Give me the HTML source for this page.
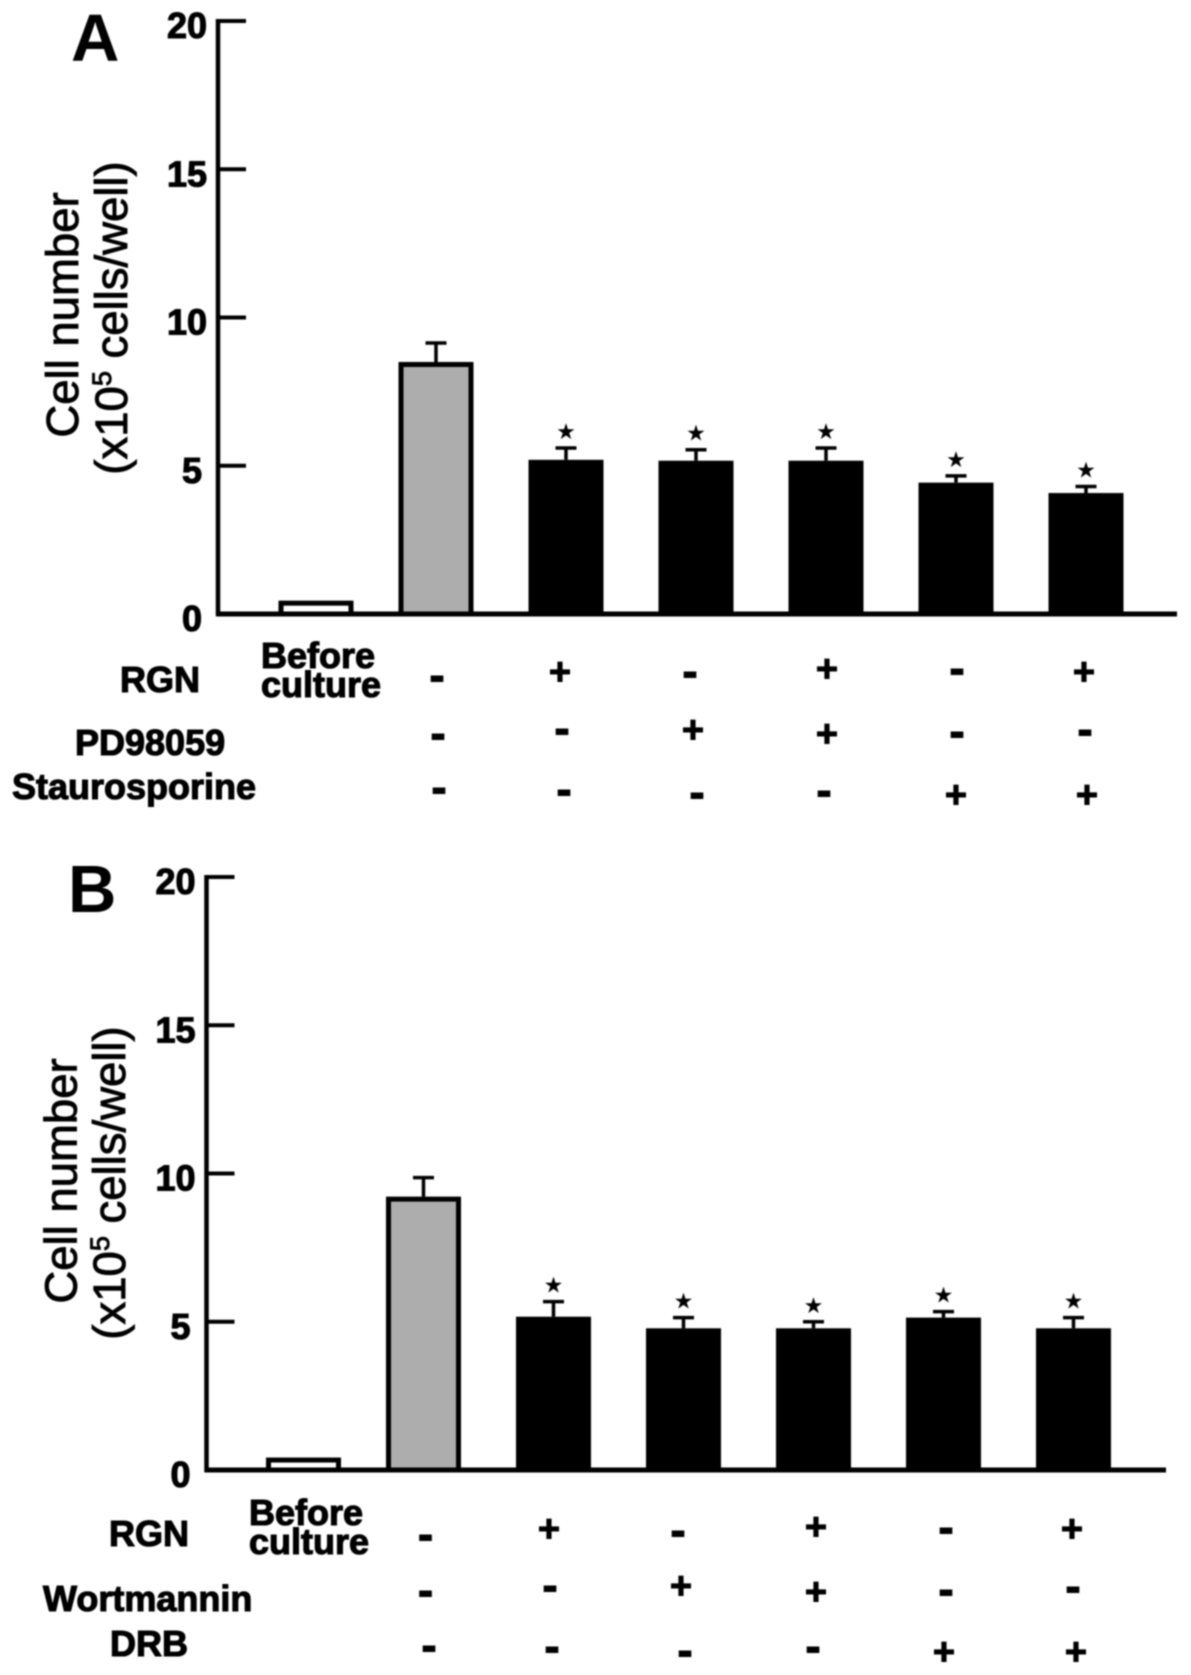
<!DOCTYPE html>
<html lang="en">
<head>
<meta charset="utf-8">
<title>Cell number bar charts</title>
<style>
html,body{margin:0;padding:0;background:#fff;width:1191px;height:1675px;overflow:hidden}
svg{display:block;filter:blur(.7px)}
text{font-family:"Liberation Sans",sans-serif;fill:#000}
.lab{font-size:36px;font-weight:700;stroke:#000;stroke-width:1.1px}
.tick{font-size:36px;font-weight:700;stroke:#000;stroke-width:1.1px}
.ttl{font-size:45.5px;stroke:#000;stroke-width:.9px}
.pan{font-size:67px;font-weight:700}
.p{font-size:38px;font-weight:700;text-anchor:middle;stroke:#000;stroke-width:1px}
.m{font-size:46px;font-weight:700;text-anchor:middle;stroke:#000;stroke-width:1px}
.star{font-family:"DejaVu Sans",sans-serif;font-size:22px;text-anchor:middle}
</style>
</head>
<body>
<svg id="chart" xmlns="http://www.w3.org/2000/svg" width="1191" height="1675" viewBox="0 0 1191 1675">
  <rect x="0" y="0" width="1191" height="1675" fill="#fff"/>

  <text class="pan" x="71" y="61">A</text>
  <text class="ttl" transform="translate(78,315) rotate(-90)" text-anchor="middle">Cell number</text>
  <text class="ttl" transform="translate(127,318) rotate(-90)" text-anchor="middle">(x10<tspan font-size="27" dy="-16">5</tspan><tspan dy="16"> cells/well)</tspan></text>

  <text class="lab" x="120" y="692">RGN</text>
  <text class="lab" x="261" y="668">Before</text>
  <text class="lab" x="261" y="697">culture</text>
  <text class="lab" x="75" y="755">PD98059</text>
  <text class="lab" x="12" y="799">Staurosporine</text>

  <g>
    <text class="m" x="437" y="691">-</text><text class="p" x="560" y="684.5">+</text><text class="m" x="690" y="687">-</text><text class="p" x="827" y="681.5">+</text><text class="m" x="957" y="684">-</text><text class="p" x="1084" y="684.5">+</text>
    <text class="m" x="438" y="749">-</text><text class="m" x="562" y="744">-</text><text class="p" x="693" y="742.5">+</text><text class="p" x="827" y="746.5">+</text><text class="m" x="957" y="747">-</text><text class="m" x="1085" y="745">-</text>
    <text class="m" x="439" y="803">-</text><text class="m" x="564" y="805">-</text><text class="m" x="697" y="808">-</text><text class="m" x="824" y="806">-</text><text class="p" x="956" y="807.5">+</text><text class="p" x="1087" y="807.5">+</text>
  </g>

  <text class="pan" x="68" y="912">B</text>
  <text class="ttl" transform="translate(76.5,1181) rotate(-90)" text-anchor="middle">Cell number</text>
  <text class="ttl" transform="translate(125,1183) rotate(-90)" text-anchor="middle">(x10<tspan font-size="27" dy="-16">5</tspan><tspan dy="16"> cells/well)</tspan></text>

  <text class="lab" x="109" y="1546">RGN</text>
  <text class="lab" x="249" y="1525">Before</text>
  <text class="lab" x="249" y="1554">culture</text>
  <text class="lab" x="43" y="1611">Wortmannin</text>
  <text class="lab" x="110" y="1656">DRB</text>

  <g>
    <text class="m" x="425.5" y="1550">-</text><text class="p" x="549" y="1541.5">+</text><text class="m" x="678" y="1546">-</text><text class="p" x="816" y="1539.5">+</text><text class="m" x="946" y="1543">-</text><text class="p" x="1072" y="1541.5">+</text>
    <text class="m" x="425.5" y="1606">-</text><text class="m" x="550" y="1601">-</text><text class="p" x="681" y="1598.5">+</text><text class="p" x="816" y="1604.5">+</text><text class="m" x="946" y="1605">-</text><text class="m" x="1073" y="1602">-</text>
    <text class="m" x="429" y="1661">-</text><text class="m" x="552" y="1662">-</text><text class="m" x="685" y="1666">-</text><text class="m" x="813" y="1662">-</text><text class="p" x="944" y="1664.5">+</text><text class="p" x="1076" y="1664.5">+</text>
  </g>
  <g id="plots"></g>
</svg>
<script>
const tickValues = [0, 5, 10, 15, 20];
const barKinds = ['white', 'gray', 'black', 'black', 'black', 'black', 'black'];
const valuesA = [0.45, 8.5, 5.2, 5.17, 5.17, 4.43, 4.08];
const errorTopsA = [null, 9.14, 5.6, 5.54, 5.6, 4.66, 4.3];
const significantA = [false, false, true, true, true, true, true];
const valuesB = [0.42, 9.22, 5.17, 4.78, 4.78, 5.14, 4.78];
const errorTopsB = [null, 9.86, 5.68, 5.14, 5.0, 5.34, 5.14];
const significantB = [false, false, true, true, true, true, true];

const NS = 'http://www.w3.org/2000/svg';
const plots = document.getElementById('plots');
const fills = { white: '#fff', gray: '#adadad', black: '#000' };

function shape(parent, tag, attrs) {
  const el = document.createElementNS(NS, tag);
  for (const k in attrs) el.setAttribute(k, attrs[k]);
  parent.appendChild(el);
  return el;
}

function drawPanel(prefix, axisX, axisRight, baseY, firstCenter, values, errorTops, significant) {
  const unit = 29.65;
  const yOf = v => baseY - v * unit;
  const xOf = i => firstCenter + 130 * i - (i > 0 ? 10 : 0);
  const barW = 75;
  const g = shape(plots, 'g', {});
  
  

  values.forEach((v, i) => {
    const kind = barKinds[i];
    const sw = kind === 'black' ? 0 : 5;
    const bar = shape(g, 'rect', {
      x: xOf(i) - barW / 2 + sw / 2,
      y: yOf(v) + sw / 2,
      width: barW - sw,
      height: baseY - yOf(v) - sw / 2,
      fill: fills[kind],
      stroke: '#000',
      'stroke-width': sw
    });
    
    
    if (errorTops[i] !== null) {
      const stem = shape(g, 'line', { x1: xOf(i), x2: xOf(i), y1: yOf(v), y2: yOf(errorTops[i]), stroke: '#000', 'stroke-width': 3.5 });
      
      
      const cap = shape(g, 'line', { x1: xOf(i) - 10.5, x2: xOf(i) + 10.5, y1: yOf(errorTops[i]), y2: yOf(errorTops[i]), stroke: '#000', 'stroke-width': 3.5 });
      
      
    }
    if (significant[i]) {
      const star = shape(g, 'text', { class: 'star', x: xOf(i), y: yOf(errorTops[i]) - 9 });
      star.textContent = '\u2605';
      
      
    }
  });

  const yAxis = shape(g, 'line', { x1: axisX, x2: axisX, y1: yOf(20) - 2, y2: baseY + 2, stroke: '#000', 'stroke-width': 4.5 });
  
  
  const xAxis = shape(g, 'line', { x1: axisX - 2, x2: axisRight, y1: baseY, y2: baseY, stroke: '#000', 'stroke-width': 5 });
  
  

  tickValues.forEach(t => {
    const mark = shape(g, 'line', { x1: axisX, x2: axisX + 28, y1: yOf(t), y2: yOf(t), stroke: '#000', 'stroke-width': 4 });
    
    
    const label = shape(g, 'text', {
      class: 'tick',
      x: axisX - (t < 10 ? 16 : 11),
      y: yOf(t) + 17,
      'text-anchor': 'end'
    });
    label.textContent = String(t);
    
    
  });
}

drawPanel('panel-a', 218, 1177, 614, 316, valuesA, errorTopsA, significantA);
drawPanel('panel-b', 206.5, 1166, 1470, 303.5, valuesB, errorTopsB, significantB);
</script>
</body>
</html>
